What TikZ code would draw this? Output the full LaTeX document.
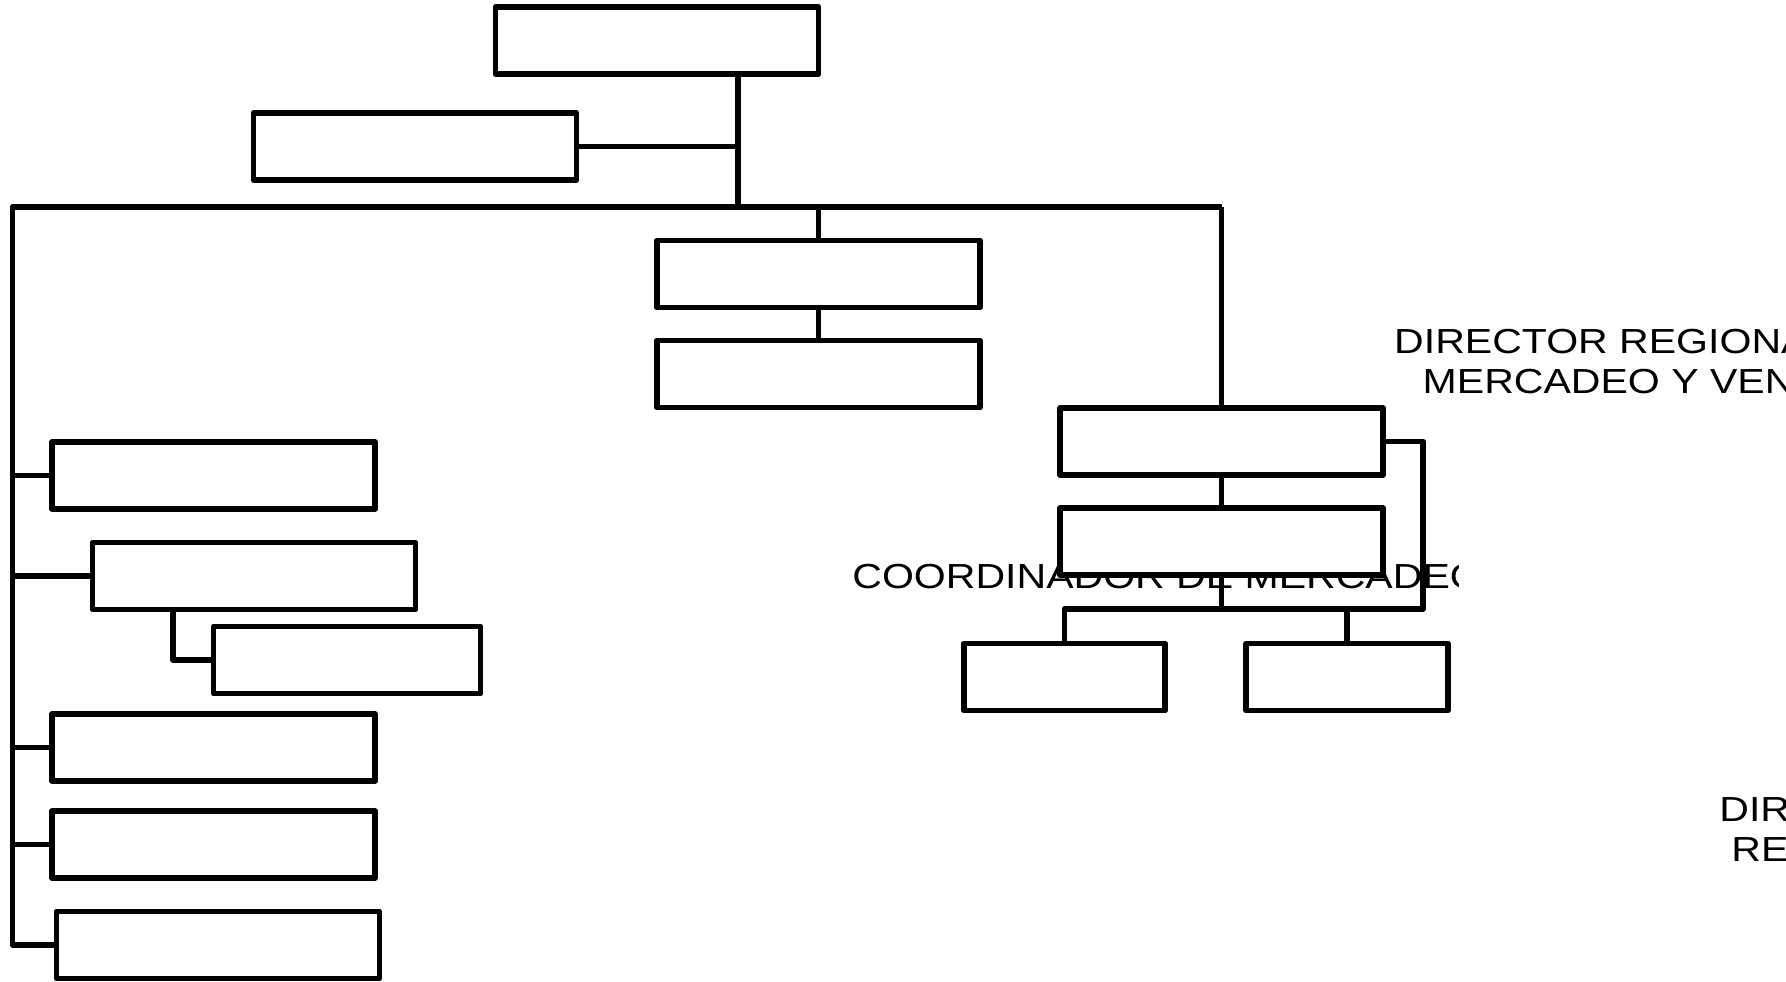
\documentclass[tikz,border=0pt]{standalone}
\usepackage{fontspec}
\setmainfont{Liberation Sans}
\usepackage{tikz}
\usetikzlibrary{positioning,calc}
\usepackage{xcolor}
\definecolor{InkK}{RGB}{0,0,0}

\tikzset{
  post/.style={draw=InkK,fill=white,line width=3.3pt,line join=round,inner sep=0pt,
    minimum width=6.46cm,minimum height=1.34cm},
  subpost/.style={post,minimum width=5.34cm},
  smallpost/.style={post,minimum width=4.03cm},
  link/.style={draw=InkK,line width=3.3pt,line join=round},
  lbl/.style={inner sep=0pt,xscale=1.18,font=\fontsize{19.8}{22.8}\selectfont}
}

\begin{document}
\begin{tikzpicture}[x=0.02cm,y=-0.02cm]
  \useasboundingbox (0,0) rectangle (1786,982);
  % labels sit under the boxes
  \begin{scope}
    \clip (0,0) rectangle (1458,982);
    \node[lbl,anchor=base west] (coord) at (852,589) {COORDINADOR DE MERCADEO};
  \end{scope}
  \begin{scope}
    \clip (0,0) rectangle (1786,982);
    \node[lbl,anchor=north,align=center] (dirmv) at (1647,329)
      {DIRECTOR REGIONAL DE\\MERCADEO Y VENTAS};
    \node[lbl,anchor=base west] (dira) at (1719,822) {DIR};
    \node[lbl,anchor=base west] (dirb) at (1731,862) {RE};
  \end{scope}

  % boxes
  \node[post] (top) at (657,40.5) {};
  \node[post] (B2) at (415,146.5) {};
  \node[post] (M1) at (818.5,274) {};
  \node[post] (M2) at (818.5,374) {};
  \node[post] (R1) at (1221.5,441.5) {};
  \node[post] (R2) at (1221.5,541.5) {};
  \node[smallpost] (R3) at (1064.5,677) {};
  \node[smallpost] (R4) at (1347,677) {};
  \foreach \n/\x/\y in {L1/213.5/475.5, L2/254/576, L4/213.5/747.5,
                        L5/213.5/844.5, L6/218/945}{
    \node[post] (\n) at (\x,\y) {};
  }
  \node[subpost] (L3) at (347,660) {};

  % connectors
  \coordinate (trunk) at (738,207);
  \coordinate (busL) at (12.5,207);
  \coordinate (subx) at (173,660);
  \coordinate (sub2) at (1423,609);
  \draw[link] (top.south -| trunk) -- (trunk);
  \draw[link] (B2.east) -- (B2.east -| trunk);
  \draw[link] (R1.north |- trunk) -- (busL) |- (L6.west);
  \draw[link] (M1.north) -- (M1.north |- trunk);
  \draw[link] (M1.south) -- (M2.north);
  \draw[link] (R1.north) -- (R1.north |- trunk);
  \draw[link] (R1.south) -- (R2.north);
  \draw[link] (R2.south) -- (R2.south |- sub2);
  \draw[link] (R1.east) -| (sub2) -- (sub2 -| R3.north) -- (R3.north);
  \draw[link] (R4.north) -- (R4.north |- sub2);
  \foreach \n in {L1,L2,L4,L5}{
    \draw[link] (\n.west) -- (\n.west -| busL);
  }
  \draw[link] (L2.south -| subx) -- (subx) -- (L3.west);
\end{tikzpicture}
\end{document}
